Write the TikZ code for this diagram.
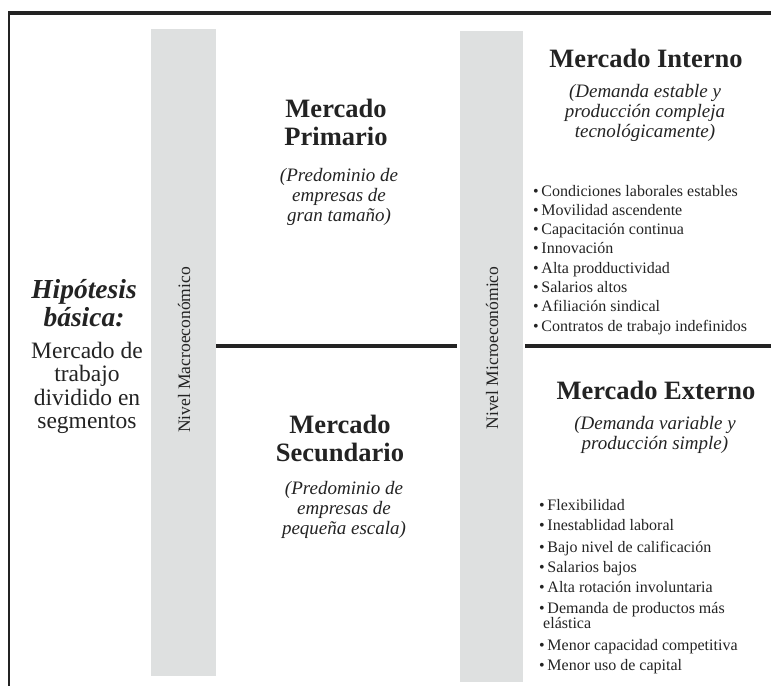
\documentclass[tikz,border=0pt]{standalone}
\usepackage{fontspec}
\setmainfont{Liberation Serif}
\definecolor{bargray}{RGB}{222,224,224}
\definecolor{ink}{RGB}{35,35,35}

\begin{document}
\begin{tikzpicture}[x=1pt, y=-1pt,
    rule/.style={line width=4pt, color=ink},
    head/.style={font=\fontsize{26.5}{28}\selectfont\bfseries, align=center, inner sep=0pt, text=ink},
    note/.style={font=\fontsize{19}{20}\selectfont\itshape, align=center, inner sep=0pt, text=ink},
    item/.style={font=\fontsize{16}{19}\selectfont, anchor=base west, inner sep=0pt, text=ink},
    level/.style={font=\fontsize{17.5}{20}\selectfont, rotate=90, inner sep=0pt, text=ink}]
    \useasboundingbox (0,0) rectangle (771,686);

    % Frame
    \draw[rule] (8,13) -- (771,13);
    \draw[ink, line width=1.8pt] (9,11) -- (9,686);

    % Level bars
    \fill[bargray] (151,29) rectangle (216,676);
    \fill[bargray] (460,31) rectangle (523,682);
    \node[level] (macro) at (184,350) {Nivel Macroeconómico};
    \node[level] (micro) at (492,348) {Nivel Microeconómico};

    % Dividers
    \draw[rule, line width=3.5pt] (216,346) -- (457,346);
    \draw[rule, line width=3.5pt] (525,346) -- (771,346);

    % Hypothesis
    \node[font=\fontsize{27.5}{28}\selectfont\bfseries\itshape, align=center, inner sep=0pt, text=ink]
        (hipo) at (84,303) {Hipótesis\\básica:};
    \node[font=\fontsize{23.5}{23.3}\selectfont, align=center, inner sep=0pt, text=ink]
        (basis) at (87,388) {Mercado de\\trabajo\\dividido en\\segmentos};

    % Macro level
    \node[head] (prim) at (336,122) {Mercado\\Primario};
    \node[note] (primnote) at (339,197) {(Predominio de\\empresas de\\gran tamaño)};
    \node[head] (sec) at (340,438) {Mercado\\Secundario};
    \node[note] (secnote) at (344,510) {(Predominio de\\empresas de\\pequeña escala)};

    % Micro level
    \node[head] (int) at (646,58) {Mercado Interno};
    \node[note] (intnote) at (645,113) {(Demanda estable y\\producción compleja\\tecnológicamente)};
    \foreach \yy/\txt [count=\i] in {196/Condiciones laborales estables,
        215.3/Movilidad ascendente, 234.6/Capacitación continua,
        253.9/Innovación, 273.2/Alta prodductividad, 292.5/Salarios altos,
        311.8/Afiliación sindical, 331.1/Contratos de trabajo indefinidos}
        \node[item] (int\i) at (533,\yy) {\textbullet\,\txt};

    \node[head] (ext) at (656,390) {Mercado Externo};
    \node[note] (extnote) at (655,435) {(Demanda variable y\\producción simple)};
    \foreach \yy/\txt [count=\i] in {510/Flexibilidad, 530/Inestablidad laboral,
        552/Bajo nivel de calificación, 572/Salarios bajos,
        592/Alta rotación involuntaria, 613/Demanda de productos más,
        650/Menor capacidad competitiva, 670/Menor uso de capital}
        \node[item] (ext\i) at (539,\yy) {\textbullet\,\txt};
    \node[item] (ext6b) at (543,628) {elástica};
\end{tikzpicture}
\end{document}
